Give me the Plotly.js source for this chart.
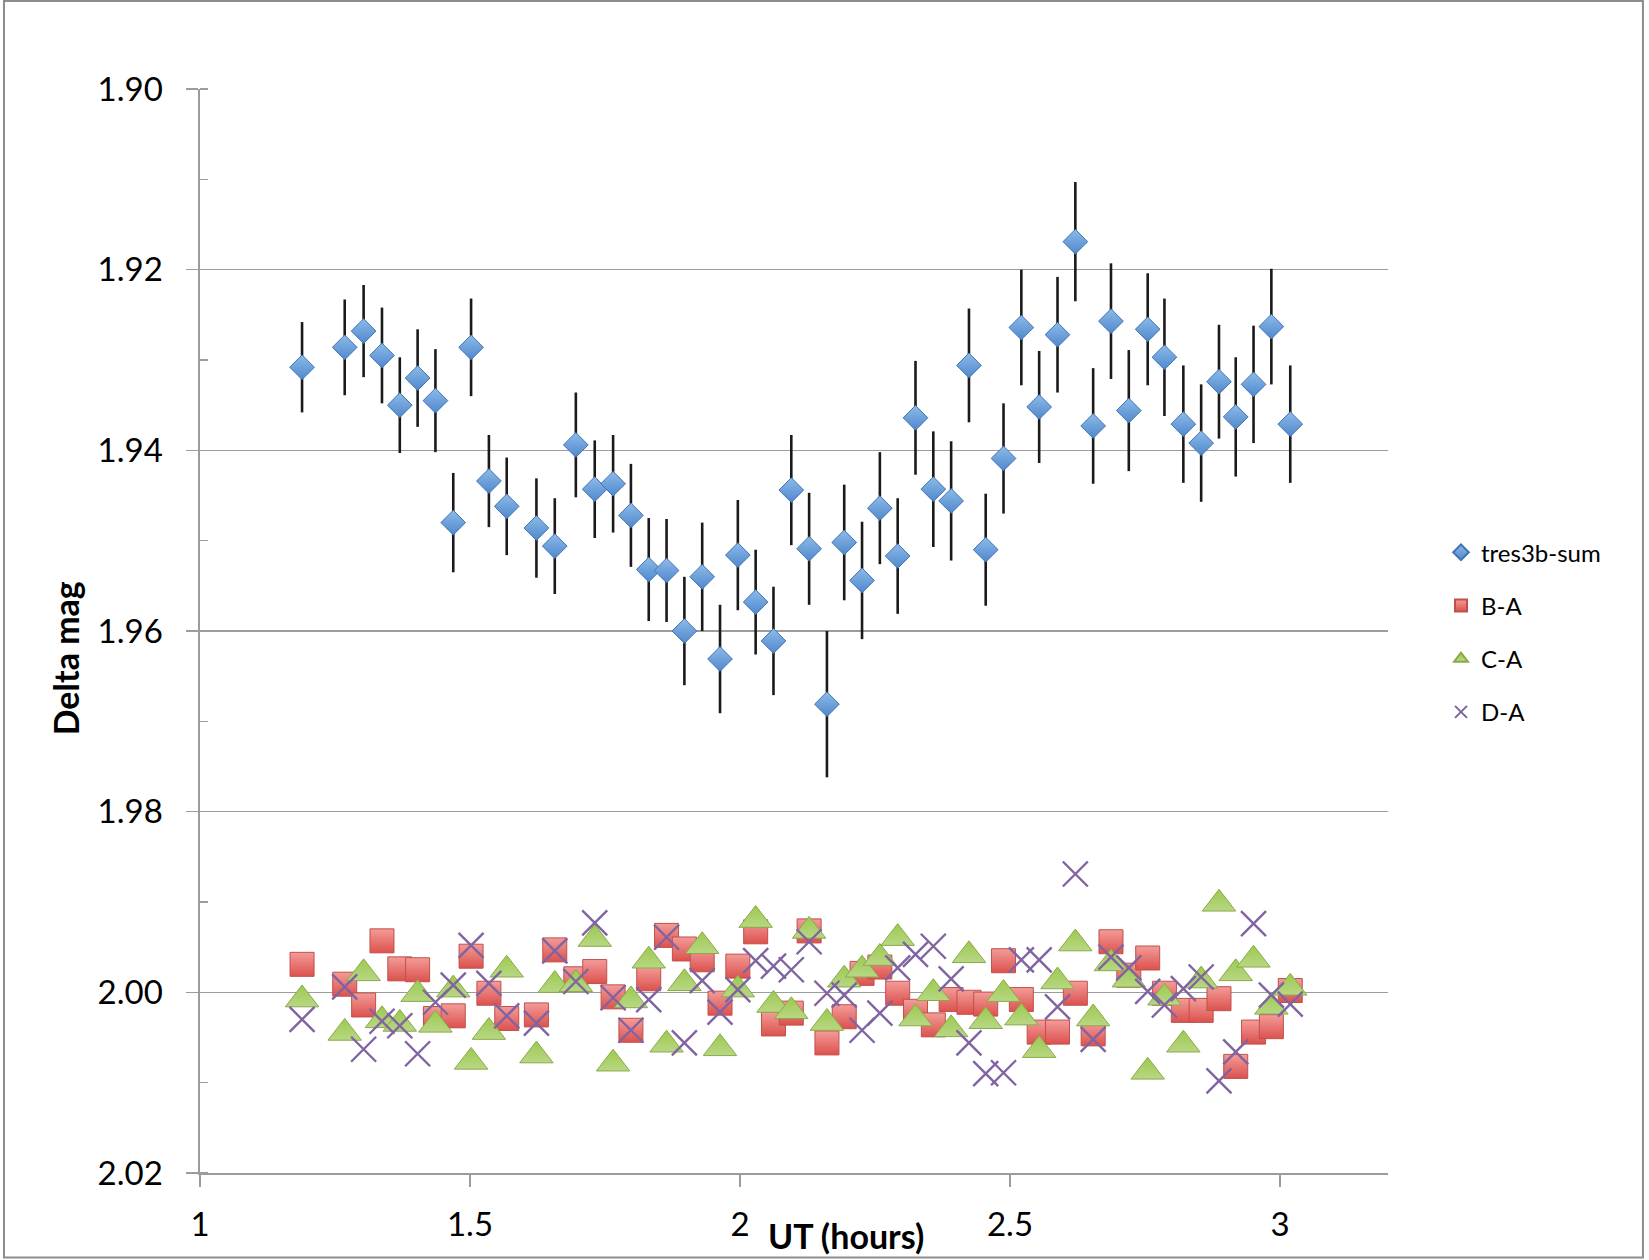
<!DOCTYPE html>
<html>
<head>
<meta charset="utf-8">
<script src="https://cdn.plot.ly/plotly-3.0.1.min.js"></script>
<style>html,body{margin:0;padding:0;background:#fff;}#chart{width:1649px;height:1260px;}</style>
</head>
<body>
<div id="chart"></div>
<script>
const utHours = [1.189, 1.268, 1.303, 1.337, 1.370, 1.403, 1.436, 1.469, 1.502, 1.535, 1.568, 1.623, 1.657, 1.696, 1.731, 1.765, 1.798, 1.831, 1.864, 1.897, 1.930, 1.963, 1.996, 2.029, 2.062, 2.095, 2.128, 2.161, 2.193, 2.226, 2.259, 2.292, 2.325, 2.358, 2.391, 2.424, 2.455, 2.488, 2.521, 2.554, 2.588, 2.621, 2.654, 2.687, 2.720, 2.755, 2.786, 2.821, 2.854, 2.887, 2.918, 2.951, 2.984, 3.019];

const tres3bSum = [1.9308, 1.9286, 1.9268, 1.9295, 1.9350, 1.9320, 1.9345, 1.9480, 1.9286, 1.9434, 1.9462, 1.9486, 1.9506, 1.9394, 1.9443, 1.9437, 1.9472, 1.9532, 1.9533, 1.9600, 1.9540, 1.9631, 1.9516, 1.9568, 1.9611, 1.9444, 1.9509, 1.9681, 1.9502, 1.9544, 1.9464, 1.9517, 1.9364, 1.9443, 1.9456, 1.9306, 1.9510, 1.9409, 1.9264, 1.9352, 1.9272, 1.9169, 1.9373, 1.9257, 1.9356, 1.9266, 1.9297, 1.9371, 1.9392, 1.9324, 1.9363, 1.9327, 1.9263, 1.9371];

const tres3bErr = [0.0050, 0.0053, 0.0051, 0.0053, 0.0053, 0.0054, 0.0057, 0.0055, 0.0054, 0.0051, 0.0054, 0.0055, 0.0053, 0.0058, 0.0054, 0.0054, 0.0057, 0.0057, 0.0057, 0.0060, 0.0060, 0.0060, 0.0061, 0.0058, 0.0060, 0.0061, 0.0062, 0.0081, 0.0064, 0.0065, 0.0062, 0.0064, 0.0063, 0.0064, 0.0066, 0.0063, 0.0062, 0.0061, 0.0064, 0.0062, 0.0064, 0.0066, 0.0064, 0.0064, 0.0067, 0.0062, 0.0065, 0.0065, 0.0065, 0.0063, 0.0066, 0.0065, 0.0064, 0.0065];

const bMinusA = [1.9969, 1.9991, 2.0014, 1.9943, 1.9974, 1.9975, 2.0029, 2.0026, 1.9960, 2.0001, 2.0029, 2.0025, 1.9953, 1.9985, 1.9977, 2.0005, 2.0042, 1.9985, 1.9937, 1.9952, 1.9964, 2.0012, 1.9971, 1.9933, 2.0035, 2.0023, 1.9932, 2.0056, 2.0027, 1.9979, 1.9972, 2.0001, 2.0021, 2.0036, 2.0008, 2.0011, 2.0013, 1.9965, 2.0008, 2.0044, 2.0044, 2.0001, 2.0046, 1.9944, 1.9981, 1.9962, 2.0001, 2.0020, 2.0020, 2.0007, 2.0082, 2.0044, 2.0038, 1.9998];

const cMinusA = [2.0008, 2.0045, 1.9979, 2.0031, 2.0035, 2.0002, 2.0036, 1.9997, 2.0077, 2.0044, 1.9975, 2.0070, 1.9992, 1.9991, 1.9941, 2.0079, 2.0009, 1.9965, 2.0058, 1.9990, 1.9949, 2.0062, 1.9997, 1.9920, 2.0014, 2.0021, 1.9932, 2.0034, 1.9986, 1.9975, 1.9962, 1.9940, 2.0029, 2.0001, 2.0041, 1.9959, 2.0032, 2.0002, 2.0028, 2.0064, 1.9988, 1.9946, 2.0029, 1.9968, 1.9986, 2.0088, 2.0006, 2.0058, 1.9987, 1.9902, 1.9979, 1.9964, 2.0016, 1.9995];

const dMinusA = [2.0030, 1.9994, 2.0063, 2.0032, 2.0037, 2.0068, 2.0011, 1.9992, 1.9948, 1.9990, 2.0026, 2.0034, 1.9954, 1.9988, 1.9923, 2.0006, 2.0042, 2.0008, 1.9939, 2.0056, 1.9987, 2.0022, 1.9997, 1.9965, 1.9971, 1.9975, 1.9944, 2.0001, 2.0003, 2.0042, 2.0023, 1.9973, 1.9958, 1.9949, 1.9985, 2.0056, 2.0090, 2.0089, 1.9964, 1.9964, 2.0016, 1.9869, 2.0052, 1.9961, 1.9973, 1.9999, 2.0014, 1.9996, 1.9983, 2.0098, 2.0066, 1.9924, 2.0003, 2.0013];

const seriesNames = ["tres3b-sum", "B-A", "C-A", "D-A"];
const xTickVals = [1, 1.5, 2, 2.5, 3];
const xTickText = ["1", "1.5", "2", "2.5", "3"];
const yTickVals = [1.90, 1.92, 1.94, 1.96, 1.98, 2.00, 2.02];
const yTickText = ["1.90", "1.92", "1.94", "1.96", "1.98", "2.00", "2.02"];

const FONT = "Lato, 'Open Sans', sans-serif";
const GRID = "#9c9c9c";

const traces = [
  {
    x: utHours, y: tres3bSum, name: seriesNames[0], type: "scatter", mode: "markers",
    legendgroup: "g1",
    error_y: {type: "data", array: tres3bErr, visible: true, color: "#1a1a1a", thickness: 2.6, width: 0},
    marker: {symbol: "diamond", size: 19, color: "#8dbbea",
             gradient: {type: "vertical", color: "#4f88cc"},
             line: {color: "#4273b0", width: 1}}
  },
  {
    x: utHours, y: bMinusA, name: seriesNames[1], type: "scatter", mode: "markers",
    legendgroup: "g2",
    marker: {symbol: "square", size: 24, color: "#f39c99",
             gradient: {type: "vertical", color: "#dc514d"},
             line: {color: "#c0504d", width: 1}}
  },
  {
    x: utHours, y: cMinusA, name: seriesNames[2], type: "scatter", mode: "markers",
    legendgroup: "g3",
    marker: {symbol: "triangle-up", size: 29, color: "#9cc94f",
             gradient: {type: "vertical", color: "#b8d784"},
             line: {color: "#89aa48", width: 1}}
  },
  {
    x: utHours, y: dMinusA, name: seriesNames[3], type: "scatter", mode: "markers",
    legendgroup: "g4",
    marker: {symbol: "x-thin-open", size: 25, color: "#8064a2",
             line: {color: "#8468a8", width: 2.4}}
  }
];

const layout = {
  width: 1649, height: 1260,
  paper_bgcolor: "#ffffff", plot_bgcolor: "#ffffff",
  margin: {l: 200, r: 261, t: 89, b: 87, pad: 0},
  font: {family: FONT, color: "#000000", size: 33},
  showlegend: true,
  legend: {
    x: 1.0446, xanchor: "left", y: 0.593, yanchor: "top",
    font: {family: FONT, size: 24, color: "#000"},
    itemsizing: "constant", itemwidth: 30,
    traceorder: "grouped", tracegroupgap: 19,
    bgcolor: "rgba(0,0,0,0)", borderwidth: 0
  },
  xaxis: {
    range: [1, 3.2], autorange: false,
    tickmode: "array", tickvals: xTickVals, ticktext: xTickText,
    showgrid: false, zeroline: false,
    showline: true, linecolor: GRID, linewidth: 1.6,
    ticks: "outside", ticklen: 12, tickwidth: 1.6, tickcolor: GRID,
    tickfont: {family: FONT, size: 33, color: "#000"},
    ticklabelstandoff: 10
  },
  yaxis: {
    range: [2.02, 1.90], autorange: false,
    tickmode: "array", tickvals: yTickVals, ticktext: yTickText,
    showgrid: true, gridcolor: GRID, gridwidth: 1.6,
    zeroline: false,
    showline: true, linecolor: GRID, linewidth: 1.6,
    ticks: "outside", ticklen: 12, tickwidth: 1.6, tickcolor: GRID,
    tickfont: {family: FONT, size: 33, color: "#000"},
    ticklabelstandoff: 17,
    minor: {dtick: 0.01, tick0: 1.90, ticks: "inside", ticklen: 8, tickwidth: 1.6, tickcolor: GRID, showgrid: false}
  },
  annotations: [
    {text: "<b>UT (hours)</b>", xref: "paper", yref: "paper", x: 0.544, y: -0.058,
     xanchor: "center", yanchor: "middle", showarrow: false,
     font: {family: FONT, size: 34, color: "#000"}},
    {text: "<b>Delta mag</b>", xref: "paper", yref: "paper", x: -0.1135, y: 0.475,
     xanchor: "center", yanchor: "middle", showarrow: false, textangle: -90,
     font: {family: FONT, size: 34, color: "#000"}}
  ],
  shapes: [
    {type: "rect", xref: "paper", yref: "paper",
     x0: -0.1650, x1: 1.2146, y0: -0.0780, y1: 1.0812,
     line: {color: "#8c8c8c", width: 2}, fillcolor: "rgba(0,0,0,0)", layer: "below"}
  ]
};

Plotly.newPlot("chart", traces, layout, {displayModeBar: false, staticPlot: true});
</script>
</body>
</html>
